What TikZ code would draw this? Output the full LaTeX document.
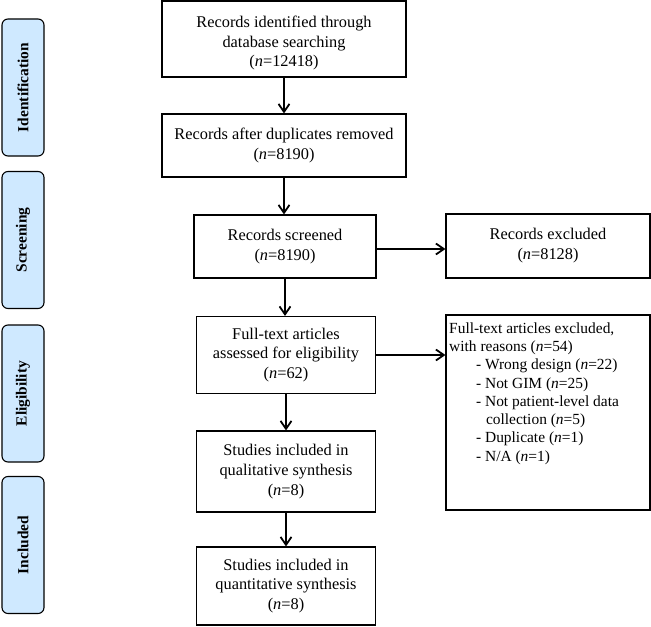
\documentclass[tikz,border=0pt]{standalone}
\usepackage{fontspec}
\setmainfont{Liberation Serif}
\usetikzlibrary{arrows.meta}
\begin{document}
\begin{tikzpicture}[x=1bp,y=-1bp,
  frame/.style={draw=black, line width=1.1pt, inner sep=0pt},
  mainbox/.style={frame, align=center, inner sep=2pt, font=\fontsize{16.4}{20}\selectfont},
  phase/.style={draw=black, line width=1.1pt, fill=phasefill, rounded corners=6pt, minimum width=42bp, minimum height=137bp, inner sep=0pt},
  phasetext/.style={rotate=90, font=\bfseries\fontsize{15.5}{17}\selectfont},
  flow/.style={line width=2pt, -{Straight Barb[length=8pt,width=11pt,line width=1.8pt]}}
]
\definecolor{phasefill}{RGB}{207,233,255}
\useasboundingbox (0,0) rectangle (651,627);

% phase labels
\node[phase] (pid) at (23,87.5) {};
\node[phasetext] at (pid.center) {Identification};
\node[phase] (psc) at (23,240) {};
\node[phasetext] at (psc.center) {Screening};
\node[phase] (pel) at (23,393.5) {};
\node[phasetext] at (pel.center) {Eligibility};
\node[phase] (pin) at (23,545) {};
\node[phasetext] at (pin.center) {Included};

% main boxes
\node[frame, minimum width=244bp, minimum height=76bp] (b1) at (284,39) {};
\node[align=center, inner sep=0pt, font=\fontsize{16.4}{20}\selectfont] (b1t) at ([yshift=-4bp]b1.center)
  {Records identified through\\database searching\\(\textit{n}=12418)};
\node[mainbox, minimum width=244bp, minimum height=63bp] (b2) at (284,145.5)
  {Records after duplicates removed\\(\textit{n}=8190)};
\node[mainbox, minimum width=182bp, minimum height=63bp] (b3) at (285,246.5)
  {Records screened\\(\textit{n}=8190)};
\node[mainbox, minimum width=204bp, minimum height=64bp] (e1) at (548,246)
  {Records excluded\\(\textit{n}=8128)};
\node[mainbox, minimum width=179bp, minimum height=77bp] (b4) at (286,355)
  {Full-text articles\\assessed for eligibility\\(\textit{n}=62)};
\node[frame, minimum width=204bp, minimum height=195bp] (e2) at (548,412.5) {};
\node[anchor=north west, align=left, inner sep=0pt, font=\fontsize{15.5}{18.3}\selectfont] (e2t) at (449,322.5)
  {Full-text articles excluded,\\
   with reasons (\textit{n}=54)\\
   \hspace{27pt}- Wrong design (\textit{n}=22)\\
   \hspace{27pt}- Not GIM (\textit{n}=25)\\
   \hspace{27pt}- Not patient-level data\\
   \hspace{37pt}collection (\textit{n}=5)\\
   \hspace{27pt}- Duplicate (\textit{n}=1)\\
   \hspace{27pt}- N/A (\textit{n}=1)};
\node[mainbox, minimum width=179bp, minimum height=81bp] (b5) at (286,471.5)
  {Studies included in\\qualitative synthesis\\(\textit{n}=8)};
\node[mainbox, minimum width=179bp, minimum height=78bp] (b6) at (286,586)
  {Studies included in\\quantitative synthesis\\(\textit{n}=8)};

% connectors
\draw[flow] (b1.south) -- (b2.north);
\draw[flow] (b2.south) -- (b2.south |- b3.north);
\draw[flow] (b3.south) -- (b3.south |- b4.north);
\draw[flow] (b4.south) -- (b4.south |- b5.north);
\draw[flow] (b5.south) -- (b6.north);
\draw[flow] ([yshift=-2.5bp]b3.east) -- ([yshift=-2.5bp]b3.east -| e1.west);
\draw[flow] (b4.east) -- (b4.east -| e2.west);
\end{tikzpicture}
\end{document}
